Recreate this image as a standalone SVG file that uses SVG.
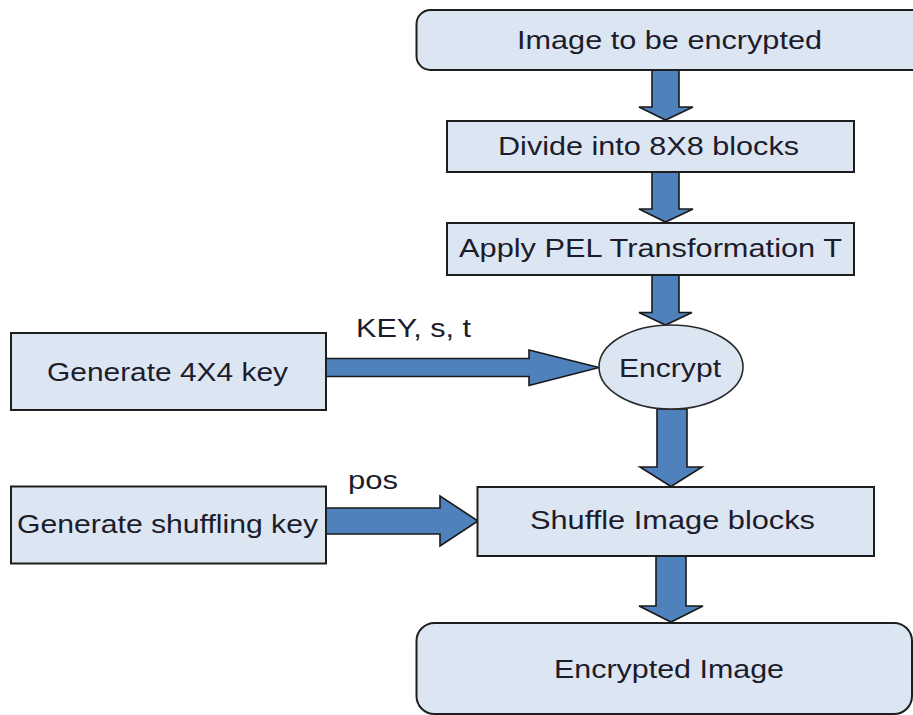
<svg xmlns="http://www.w3.org/2000/svg" width="913" height="715" viewBox="0 0 913 715">
<style>
.box{fill:#dce6f2;stroke:#1e1e1e;stroke-width:2}
.arr{fill:#4f81bd;stroke:#1a1a1a;stroke-width:1.6;stroke-linejoin:miter}
.t{font-family:"Liberation Sans",Arial,sans-serif;font-size:26px;fill:#1c1c2c}
.lbl{font-family:"Liberation Sans",Arial,sans-serif;font-size:25px;fill:#1c1c2c}
</style>
<rect width="913" height="715" fill="#ffffff"/>
<g id="connectors">
<polygon class="arr" points="652,70 679,70 679,107 693,107 665.5,120 639,107 652,107"/>
<polygon class="arr" points="652,172 679,172 679,209 693,209 665.5,222 639,209 652,209"/>
<polygon class="arr" points="652,275 679,275 679,312.5 692,312.5 665.5,325 639,312.5 652,312.5"/>
<polygon class="arr" points="657,409 687,409 687,467 702,467 671,486.5 640,467 657,467"/>
<polygon class="arr" points="656,556 686,556 686,606 703,606 671,622 639,606 656,606"/>
<polygon class="arr" points="326,358.5 529,358.5 529,350 599,367.5 529,385.5 529,376.5 326,376.5"/>
<polygon class="arr" points="326,508 440,508 440,496 478,521 440,546 440,534 326,534"/>
<text class="lbl" x="356" y="336.5" textLength="115" lengthAdjust="spacingAndGlyphs">KEY, s, t</text>
<text class="lbl" x="348" y="489" textLength="50" lengthAdjust="spacingAndGlyphs">pos</text>
</g>
<g id="image-to-be-encrypted">
<rect class="box" x="416.5" y="10" width="520" height="60" rx="14"/>
<text class="t" x="517" y="49" textLength="305" lengthAdjust="spacingAndGlyphs">Image to be encrypted</text>
</g>
<g id="divide-blocks">
<rect class="box" x="447" y="121" width="407" height="51"/>
<text class="t" x="498" y="155" textLength="301" lengthAdjust="spacingAndGlyphs">Divide into 8X8 blocks</text>
</g>
<g id="apply-pel">
<rect class="box" x="447" y="223" width="407" height="52"/>
<text class="t" x="459" y="257" textLength="383" lengthAdjust="spacingAndGlyphs">Apply PEL Transformation T</text>
</g>
<g id="generate-4x4-key">
<rect class="box" x="11" y="333" width="315" height="77"/>
<text class="t" x="47" y="381" textLength="241" lengthAdjust="spacingAndGlyphs">Generate 4X4 key</text>
</g>
<g id="encrypt">
<ellipse cx="671" cy="367" rx="72" ry="42" fill="#dce6f2" stroke="#2a2a2a" stroke-width="1.6"/>
<text class="t" x="619" y="376.5" textLength="102" lengthAdjust="spacingAndGlyphs">Encrypt</text>
</g>
<g id="generate-shuffling-key">
<rect class="box" x="11" y="486.5" width="315" height="77"/>
<text class="t" x="17" y="533" textLength="301" lengthAdjust="spacingAndGlyphs">Generate shuffling key</text>
</g>
<g id="shuffle-image-blocks">
<rect class="box" x="477.5" y="487" width="396.5" height="69"/>
<text class="t" x="530" y="529" textLength="285" lengthAdjust="spacingAndGlyphs">Shuffle Image blocks</text>
</g>
<g id="encrypted-image">
<rect class="box" x="416.5" y="623" width="495.5" height="91" rx="18"/>
<text class="t" x="554" y="678" textLength="230" lengthAdjust="spacingAndGlyphs">Encrypted Image</text>
</g>
</svg>
